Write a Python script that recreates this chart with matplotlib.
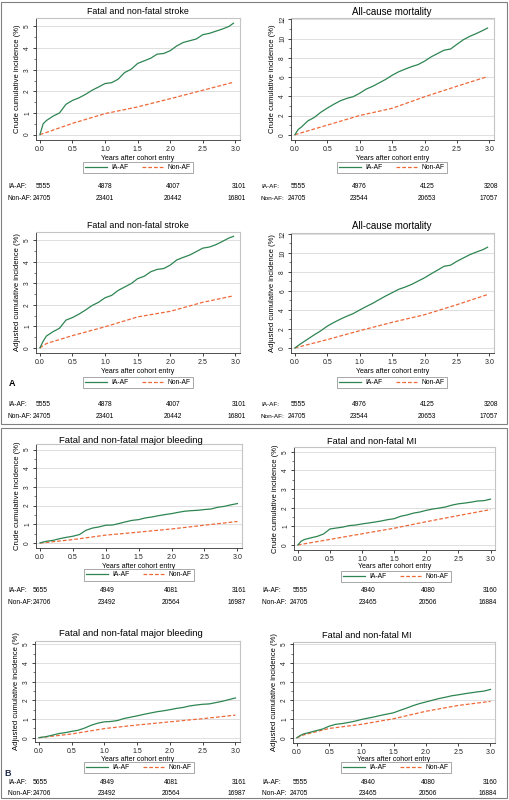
import matplotlib
matplotlib.use("Agg")
import matplotlib.pyplot as plt
from matplotlib.lines import Line2D
from matplotlib.patches import Rectangle
from matplotlib.ticker import MultipleLocator

plt.rcParams['font.family'] = ['Liberation Sans', 'DejaVu Sans']

W, H = 510, 800

# ---------------- data ----------------
tA = [0, 0.05, 0.1, 0.2, 0.3, 0.4, 0.5, 0.6, 0.7, 0.8, 0.9, 1.0, 1.1, 1.2, 1.3, 1.4,
      1.5, 1.6, 1.7, 1.8, 1.9, 2.0, 2.1, 2.2, 2.3, 2.4, 2.5, 2.6, 2.7, 2.8, 2.9, 2.97]
tA_ref = [0, 0.1, 0.5, 1.0, 1.5, 2.0, 2.5, 2.97]
tB = [0, 0.05, 0.1, 0.2, 0.3, 0.4, 0.5, 0.6, 0.7, 0.8, 0.9, 1.0, 1.1, 1.2, 1.3, 1.4,
      1.5, 1.6, 1.7, 1.8, 1.9, 2.0, 2.1, 2.2, 2.3, 2.4, 2.5, 2.6, 2.7, 2.8, 2.9, 3.0]
tB_ref = [0, 0.1, 0.5, 1.0, 1.5, 2.0, 2.5, 3.0]

stroke_crude_ia = [0, 0.5, 0.65, 0.85, 1.0, 1.4, 1.58, 1.7, 1.86, 2.05, 2.2, 2.36, 2.4, 2.56, 2.87, 3.02,
                   3.29, 3.41, 3.53, 3.72, 3.75, 3.88, 4.1, 4.26, 4.34, 4.42, 4.62, 4.68, 4.78, 4.88, 5.0, 5.15]
stroke_crude_non = [0, 0.1, 0.52, 0.97, 1.28, 1.66, 2.05, 2.42]
mort_crude_ia = [0, 0.54, 0.8, 1.44, 1.8, 2.34, 2.77, 3.17, 3.53, 3.78, 3.96, 4.32, 4.75, 5.04, 5.4, 5.76,
                 6.19, 6.55, 6.83, 7.09, 7.3, 7.66, 8.1, 8.45, 8.8, 8.92, 9.42, 9.9, 10.25, 10.54, 10.86, 11.1]
mort_crude_non = [0, 0.2, 1.0, 2.0, 2.75, 3.95, 5.05, 6.05]
stroke_adj_ia = [0, 0.31, 0.55, 0.75, 0.91, 1.29, 1.41, 1.57, 1.76, 1.97, 2.12, 2.33, 2.44, 2.67, 2.83, 2.99,
                 3.22, 3.33, 3.54, 3.65, 3.69, 3.85, 4.09, 4.21, 4.32, 4.48, 4.64, 4.69, 4.8, 4.95, 5.11, 5.19]
stroke_adj_non = [0, 0.2, 0.57, 0.98, 1.44, 1.7, 2.12, 2.42]
mort_adj_ia = [0, 0.25, 0.49, 0.94, 1.39, 1.81, 2.3, 2.68, 3.03, 3.34, 3.62, 4.0, 4.36, 4.7, 5.09, 5.47,
               5.82, 6.17, 6.41, 6.69, 7.04, 7.39, 7.8, 8.19, 8.6, 8.71, 9.13, 9.48, 9.83, 10.1, 10.35, 10.6]
mort_adj_non = [0, 0.18, 0.88, 1.82, 2.7, 3.5, 4.56, 5.62]

bleed_crude_ia = [0, 0.05, 0.09, 0.14, 0.23, 0.3, 0.36, 0.45, 0.68, 0.8, 0.86, 0.95, 0.96, 1.04, 1.13, 1.21,
                  1.25, 1.34, 1.39, 1.46, 1.52, 1.57, 1.64, 1.7, 1.73, 1.75, 1.79, 1.82, 1.91, 1.96, 2.04, 2.11]
bleed_crude_non = [0, 0.03, 0.18, 0.42, 0.58, 0.75, 0.95, 1.15]
mi_crude_ia = [0, 0.2, 0.29, 0.38, 0.46, 0.59, 0.86, 0.91, 0.96, 1.04, 1.07, 1.13, 1.18, 1.23, 1.29, 1.36,
               1.41, 1.54, 1.61, 1.71, 1.77, 1.86, 1.93, 1.98, 2.04, 2.14, 2.21, 2.25, 2.3, 2.36, 2.38, 2.46]
mi_crude_non = [0, 0.06, 0.3, 0.6, 0.9, 1.25, 1.58, 1.9]
bleed_adj_ia = [0, 0.03, 0.05, 0.13, 0.22, 0.27, 0.34, 0.4, 0.52, 0.67, 0.78, 0.85, 0.87, 0.92, 1.03, 1.1,
                1.17, 1.25, 1.32, 1.39, 1.44, 1.5, 1.57, 1.62, 1.7, 1.75, 1.79, 1.81, 1.88, 1.95, 2.04, 2.13]
bleed_adj_non = [0, 0.04, 0.2, 0.49, 0.68, 0.85, 1.02, 1.21]
mi_adj_ia = [0, 0.12, 0.2, 0.29, 0.38, 0.47, 0.62, 0.72, 0.76, 0.82, 0.89, 0.98, 1.05, 1.12, 1.2, 1.27,
             1.34, 1.47, 1.59, 1.72, 1.83, 1.92, 2.01, 2.1, 2.17, 2.25, 2.3, 2.36, 2.41, 2.46, 2.5, 2.59]
mi_adj_non = [0, 0.15, 0.5, 0.72, 1.02, 1.42, 1.73, 1.95]

x_ticks = [0.0, 0.5, 1.0, 1.5, 2.0, 2.5, 3.0]
x_ticklabels = ["0.0", "0.5", "1.0", "1.5", "2.0", "2.5", "3.0"]

titles = ["Fatal and non-fatal stroke", "All-cause mortality",
          "Fatal and non-fatal major bleeding", "Fatal and non-fatal MI"]
group_labels = ["IA-AF", "Non-AF"]

risk_stroke_ia = ["5555", "4878", "4007", "3101"]
risk_stroke_non = ["24705", "23401", "20442", "16801"]
risk_mort_ia = ["5555", "4976", "4125", "3208"]
risk_mort_non = ["24705", "23544", "20653", "17057"]
risk_bleed_ia = ["5655", "4949", "4081", "3161"]
risk_bleed_non = ["24706", "23492", "20564", "16987"]
risk_mi_ia = ["5555", "4940", "4080", "3160"]
risk_mi_non = ["24705", "23465", "20506", "16884"]

GREEN = '#2e8552'
ORANGE = '#ef6838'

fig = plt.figure(figsize=(W / 100, H / 100), dpi=100)

# outer boxes
fig.patches.append(Rectangle((1.5 / W, 1 - 424 / H), 506 / W, 422 / H, transform=fig.transFigure,
                             fill=False, edgecolor='#808080', lw=0.8))
fig.patches.append(Rectangle((1.5 / W, 1 - 798 / H), 506 / W, 370 / H, transform=fig.transFigure,
                             fill=False, edgecolor='#808080', lw=0.8))


def make_panel(l, r, t, b, xs_ia, ys_ia, xs_non, ys_non, ylim, ymajor, yminor, title,
               title_x, title_y, title_size, ylabel, legend_c, legend_y, xlab_off=15.5):
    ax = fig.add_axes([l / W, 1 - b / H, (r - l) / W, (b - t) / H])
    ax.plot(xs_non, ys_non, color=ORANGE, lw=0.9, ls=(0, (3, 1.6)), zorder=3)
    ax.plot(xs_ia, ys_ia, color=GREEN, lw=0.9, zorder=4)
    ax.set_xlim(-0.06, 3.07)
    ax.set_ylim(*ylim)
    ax.set_xticks(x_ticks)
    ax.set_xticklabels(x_ticklabels)
    ax.yaxis.set_major_locator(MultipleLocator(ymajor))
    ax.yaxis.set_minor_locator(MultipleLocator(yminor))
    ax.tick_params(axis='x', labelsize=5.0, length=2.5, width=0.6, pad=1.5, colors='#222222')
    ax.tick_params(axis='y', which='major', labelsize=4.7, length=2.5, width=0.6, pad=1,
                   labelrotation=90, colors='#222222')
    ax.tick_params(axis='y', which='minor', length=1.5, width=0.5, colors='#444444')
    for lab in ax.get_yticklabels():
        lab.set_va('center')
    ax.grid(axis='y', which='major', color='#dedede', lw=0.7)
    ax.set_axisbelow(True)
    for s in ['top', 'right']:
        ax.spines[s].set_color('#c4c4c4')
        ax.spines[s].set_linewidth(0.8)
    for s in ['left', 'bottom']:
        ax.spines[s].set_color('#333333')
        ax.spines[s].set_linewidth(0.6)
    ax.set_xlabel("Years after cohort entry", fontsize=5.0, labelpad=0)
    ax.xaxis.set_label_coords(0.5, -xlab_off / (b - t))
    ax.set_ylabel(ylabel, fontsize=5.5, labelpad=0)
    ax.yaxis.set_label_coords(-15 / (r - l), 0.5)
    fig.text(title_x / W, 1 - title_y / H, title, fontsize=title_size, ha='center', va='center')
    handles = [Line2D([], [], color=GREEN, lw=0.9),
               Line2D([], [], color=ORANGE, lw=0.9, ls=(0, (3, 1.6)))]
    leg = fig.legend(handles, group_labels, loc='center', ncol=2,
                     bbox_to_anchor=(legend_c / W, 1 - legend_y / H), bbox_transform=fig.transFigure,
                     fontsize=4.9, frameon=True, fancybox=False, edgecolor='#808080',
                     handlelength=3.2, handletextpad=0.6, columnspacing=2.0, borderpad=0.3,
                     borderaxespad=0)
    leg.get_frame().set_linewidth(0.6)
    return ax


def risk_table(xlab, x_first, first_ha, xs_mid, y1, y2, ia, non, sep, fs_lab=4.8):
    fs = 4.8
    fig.text(xlab / W, 1 - y1 / H, "IA-AF:", fontsize=fs_lab, va='center', ha='left')
    fig.text(xlab / W, 1 - y2 / H, "Non-AF:" + sep, fontsize=fs_lab, va='center', ha='left')
    fig.text(x_first / W, 1 - y1 / H, ia[0], fontsize=fs, va='center', ha=first_ha)
    fig.text(x_first / W, 1 - y2 / H, non[0], fontsize=fs, va='center', ha=first_ha)
    for k in range(1, 4):
        ha = 'center' if k < 3 else 'right'
        fig.text(xs_mid[k - 1] / W, 1 - y1 / H, ia[k], fontsize=fs, va='center', ha=ha)
        fig.text(xs_mid[k - 1] / W, 1 - y2 / H, non[k], fontsize=fs, va='center', ha=ha)


# ---------- Panel A ----------
make_panel(36, 240, 18, 140, tA, stroke_crude_ia, tA_ref, stroke_crude_non, (-0.25, 5.39), 1, 0.5,
           titles[0], 138, 12, 6.4, "Crude cumulative incidence (%)", 138, 167.5)
make_panel(291, 494, 18, 140, tA, mort_crude_ia, tA_ref, mort_crude_non, (-0.55, 12.15), 2, 1,
           titles[1], 392, 12, 7.0, "Crude cumulative incidence (%)", 392, 167.5)
make_panel(36, 240, 232, 353, tA, stroke_adj_ia, tA_ref, stroke_adj_non, (-0.24, 5.39), 1, 0.5,
           titles[0], 138, 225, 6.4, "Adjusted cumulative incidence (%)", 138, 382.5)
make_panel(291, 494, 233, 353, tA, mort_adj_ia, tA_ref, mort_adj_non, (-0.53, 12.1), 2, 1,
           titles[1], 392, 226, 7.0, "Adjusted cumulative incidence (%)", 392, 382.5)

risk_table(8, 51, 'right', [105, 173, 246], 186.5, 198, risk_stroke_ia, risk_stroke_non, "")
risk_table(261, 306, 'right', [359, 427, 498], 186.5, 198, risk_mort_ia, risk_mort_non, "", 4.6)
risk_table(8, 51, 'right', [105, 173, 246], 405, 416.5, risk_stroke_ia, risk_stroke_non, "")
risk_table(261, 306, 'right', [359, 427, 498], 405, 416.5, risk_mort_ia, risk_mort_non, "", 4.6)

fig.text(12 / W, 1 - 384 / H, "A", fontsize=6.5, fontweight='bold', va='center', ha='center')

# ---------- Panel B ----------
make_panel(36, 242, 444, 548, tB, bleed_crude_ia, tB_ref, bleed_crude_non, (-0.27, 5.3), 1, 0.5,
           titles[2], 131, 440, 6.8, "Crude cumulative incidence (%)", 139, 575, 14.5)
make_panel(294, 495, 447, 550, tB, mi_crude_ia, tB_ref, mi_crude_non, (-0.27, 5.26), 1, 0.5,
           titles[3], 372, 442, 6.6, "Crude cumulative incidence (%)", 396, 576.5, 13)
make_panel(35, 240, 641, 742, tB, bleed_adj_ia, tB_ref, bleed_adj_non, (-0.23, 5.18), 1, 0.5,
           titles[2], 131, 634, 6.8, "Adjusted cumulative incidence (%)", 139, 767.5, 14)
make_panel(293, 495, 642, 743, tB, mi_adj_ia, tB_ref, mi_adj_non, (-0.28, 5.13), 1, 0.5,
           titles[3], 367, 635, 6.6, "Adjusted cumulative incidence (%)", 396, 767.5, 13)

risk_table(8, 33, 'left', [107, 171, 246], 591, 602.5, risk_bleed_ia, risk_bleed_non, " ")
risk_table(262, 308, 'right', [368, 428, 497], 591, 602.5, risk_mi_ia, risk_mi_non, " ")
risk_table(8, 33, 'left', [107, 171, 246], 783, 793.5, risk_bleed_ia, risk_bleed_non, " ")
risk_table(262, 308, 'right', [368, 428, 497], 783, 793.5, risk_mi_ia, risk_mi_non, " ")

fig.text(8 / W, 1 - 773 / H, "B", fontsize=6.5, fontweight='bold', va='center', ha='center',
         color='#1f2a4a')

fig.savefig("out.png", dpi=100)
